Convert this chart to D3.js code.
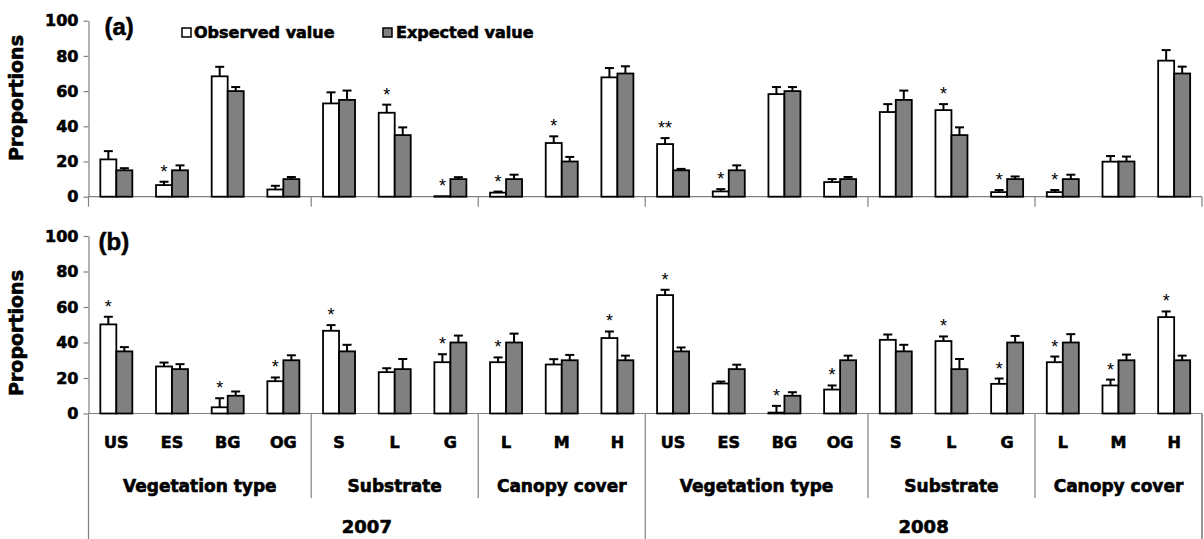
<!DOCTYPE html>
<html>
<head>
<meta charset="utf-8">
<script src="https://cdn.jsdelivr.net/npm/d3@7"></script>
<style>
  body { margin: 0; background: #fff; }
  text { font-family: "DejaVu Sans", sans-serif; font-weight: bold; fill: #000; }
  .heavy { stroke: #000; stroke-width: 0.6px; }
</style>
</head>
<body>
<div class="chart"></div>
<script>
// categories (10 per year)
var catLabels = ["US", "ES", "BG", "OG", "S", "L", "G", "L", "M", "H",
                 "US", "ES", "BG", "OG", "S", "L", "G", "L", "M", "H"];
var groupNames = ["Vegetation type", "Substrate", "Canopy cover",
                  "Vegetation type", "Substrate", "Canopy cover"];
var groupStarts = [0, 4, 7, 10, 14, 17, 20];
var years = ["2007", "2008"];
var yTicks = [0, 20, 40, 60, 80, 100];

// panel (a)
var obsA = [21.2, 6.6, 68.4, 4.1, 53.0, 47.7, 0.3, 2.3, 30.5, 67.8,
            29.9, 3.0, 58.3, 8.3, 48.1, 49.2, 2.6, 2.6, 19.9, 77.3];
var obsErrA = [4.7, 1.9, 5.4, 2.1, 6.3, 4.6, 0, 0.6, 3.8, 5.3,
               3.4, 1.3, 4.0, 1.7, 4.5, 3.4, 1.2, 1.2, 3.2, 6.0];
var expA = [15, 15, 60, 10, 55, 35, 10, 10, 20, 70,
            15, 15, 60, 10, 55, 35, 10, 10, 20, 70];
var expErrA = [1.2, 2.8, 2.3, 1.2, 5.3, 4.4, 1.1, 2.5, 2.6, 4.1,
               0.8, 2.8, 2.3, 1.2, 5.3, 4.4, 1.5, 2.5, 2.8, 3.9];
var starsA = ["", "*", "", "", "", "*", "*", "*", "*", "",
              "**", "*", "", "", "", "*", "*", "*", "", ""];

// panel (b)
var obsB = [50.2, 26.5, 3.5, 18.2, 46.6, 23.3, 28.9, 28.9, 27.6, 42.5,
            66.7, 16.9, 0.5, 13.5, 41.5, 40.8, 16.7, 28.9, 15.8, 54.3];
var obsErrB = [4.3, 2.2, 5.1, 2.1, 3.2, 2.2, 4.5, 2.7, 3.0, 3.7,
               3.0, 1.1, 3.8, 2.3, 3.0, 2.6, 3.0, 3.2, 3.3, 3.2];
var expB = [35, 25, 10, 30, 35, 25, 40, 40, 30, 30,
            35, 25, 10, 30, 35, 25, 40, 40, 30, 30];
var expErrB = [2.4, 2.8, 2.4, 2.8, 3.7, 5.7, 3.9, 5.0, 3.0, 2.6,
               2.2, 2.5, 2.0, 2.6, 3.7, 5.7, 3.7, 4.7, 3.2, 2.6];
var starsB = ["*", "", "*", "*", "*", "", "*", "*", "", "*",
              "*", "", "*", "*", "", "*", "*", "*", "*", "*"];

var svgWidth = 1204;
var svgHeight = 539;
var axisColor = "#808080";
var grayFill = "#808080";
var barW = 16;

var svg = d3.select(".chart")
    .append("svg")
    .attr("width", svgWidth)
    .attr("height", svgHeight);

var xScale = d3.scaleBand()
    .domain(d3.range(catLabels.length))
    .range([88.5, 1202]);

function edge(i) {
    return i < catLabels.length ? xScale(i) : xScale.range()[1];
}

var panels = [
    { tag: "(a)", top: 20.7, bottom: 196.7, obs: obsA, obsErr: obsErrA, exp: expA, expErr: expErrA, stars: starsA, labelY: 98 },
    { tag: "(b)", top: 236, bottom: 413.5, obs: obsB, obsErr: obsErrB, exp: expB, expErr: expErrB, stars: starsB, labelY: 333 }
];

panels.forEach(function (p, k) {
    var y = d3.scaleLinear().domain([0, 100]).range([p.bottom, p.top]);
    var g = svg.append("g");

    // y axis
    var leftAxis = d3.axisLeft(y).tickValues(yTicks).tickSize(5).tickPadding(5).tickSizeOuter(0);
    var ax = g.append("g")
        .attr("transform", "translate(" + xScale.range()[0] + ",0)")
        .call(leftAxis);
    ax.selectAll("path, line").attr("stroke", axisColor).attr("stroke-width", 1.2);
    ax.selectAll("text")
        .attr("class", "heavy")
        .style("font-family", "DejaVu Sans")
        .style("font-weight", "bold")
        .style("font-size", "16px")
        .attr("fill", "#000");

    // y axis goes on below zero
    g.append("line")
        .attr("x1", xScale.range()[0]).attr("x2", xScale.range()[0])
        .attr("y1", p.bottom).attr("y2", k === 0 ? p.bottom + 10 : svgHeight)
        .attr("stroke", axisColor).attr("stroke-width", 1.2);

    // x axis line
    g.append("line")
        .attr("x1", xScale.range()[0]).attr("x2", xScale.range()[1])
        .attr("y1", p.bottom).attr("y2", p.bottom)
        .attr("stroke", axisColor).attr("stroke-width", 1.2);

    // group dividers
    if (k === 0) {
        g.selectAll(".div")
            .data(groupStarts.slice(1))
            .enter()
            .append("line")
            .attr("x1", d => edge(d)).attr("x2", d => edge(d))
            .attr("y1", p.bottom).attr("y2", p.bottom + 10)
            .attr("stroke", axisColor).attr("stroke-width", 1.2);
    } else {
        g.selectAll(".div")
            .data(groupStarts.slice(1))
            .enter()
            .append("line")
            .attr("x1", d => edge(d)).attr("x2", d => edge(d))
            .attr("y1", p.bottom)
            .attr("y2", d => (d % 10 === 0) ? svgHeight : 498)
            .attr("stroke", axisColor).attr("stroke-width", 1.2);
    }

    // y label
    g.append("text")
        .attr("class", "heavy")
        .attr("transform", "translate(23," + p.labelY + ") rotate(-90)")
        .style("text-anchor", "middle")
        .style("font-size", "19px")
        .text("Proportions");

    // panel tag
    g.append("text")
        .attr("x", xScale.range()[0] + (k === 0 ? 16 : 10))
        .attr("y", p.top + 14)
        .style("font-family", "Liberation Sans")
        .style("font-size", "24px")
        .attr("stroke", "#000")
        .attr("stroke-width", 0.5)
        .text(p.tag);

    var idx = d3.range(catLabels.length);
    var cx = i => xScale(i) + xScale.bandwidth() / 2;

    // error bars
    function errBars(vals, errs, off) {
        var eg = g.append("g").attr("stroke", "#000").attr("stroke-width", 2);
        idx.forEach(function (i) {
            if (errs[i] <= 0) return;
            var xc = cx(i) + off;
            eg.append("line")
                .attr("x1", xc).attr("x2", xc)
                .attr("y1", y(vals[i])).attr("y2", y(vals[i] + errs[i]));
            eg.append("line")
                .attr("x1", xc - 4.5).attr("x2", xc + 4.5)
                .attr("y1", y(vals[i] + errs[i])).attr("y2", y(vals[i] + errs[i]));
        });
    }
    errBars(p.obs, p.obsErr, -barW / 2);
    errBars(p.exp, p.expErr, barW / 2);

    // observed bars
    g.selectAll(".obs")
        .data(idx)
        .enter()
        .append("rect")
        .attr("x", i => cx(i) - barW)
        .attr("y", i => y(p.obs[i]))
        .attr("width", barW)
        .attr("height", i => y(0) - y(p.obs[i]))
        .attr("fill", "#fff")
        .attr("stroke", "#000")
        .attr("stroke-width", 1.8);

    // expected bars
    g.selectAll(".exp")
        .data(idx)
        .enter()
        .append("rect")
        .attr("x", i => cx(i))
        .attr("y", i => y(p.exp[i]))
        .attr("width", barW)
        .attr("height", i => y(0) - y(p.exp[i]))
        .attr("fill", grayFill)
        .attr("stroke", "#000")
        .attr("stroke-width", 1.8);

    // significance stars
    g.selectAll(".star")
        .data(idx.filter(i => p.stars[i] !== ""))
        .enter()
        .append("text")
        .attr("x", i => cx(i) - barW / 2)
        .attr("y", i => y(p.obs[i] + p.obsErr[i]) - 4)
        .style("text-anchor", "middle")
        .style("font-family", "Liberation Sans")
        .style("font-weight", "normal")
        .style("font-size", "18px")
        .attr("fill", "#909090")
        .text(i => p.stars[i]);
});

// legend
var legend = svg.append("g");
legend.append("rect")
    .attr("x", 182).attr("y", 28).attr("width", 9).attr("height", 9)
    .attr("fill", "#fff").attr("stroke", "#000").attr("stroke-width", 1.5);
legend.append("text")
    .attr("class", "heavy")
    .attr("x", 194).attr("y", 38)
    .style("font-size", "16px")
    .text("Observed value");
legend.append("rect")
    .attr("x", 383).attr("y", 28).attr("width", 9).attr("height", 9)
    .attr("fill", grayFill).attr("stroke", "#000").attr("stroke-width", 1.5);
legend.append("text")
    .attr("class", "heavy")
    .attr("x", 396).attr("y", 38)
    .style("font-size", "16px")
    .text("Expected value");

// category labels
svg.append("g")
    .selectAll("text")
    .data(catLabels)
    .enter()
    .append("text")
    .attr("class", "heavy")
    .attr("x", (d, i) => xScale(i) + xScale.bandwidth() / 2)
    .attr("y", 448)
    .style("text-anchor", "middle")
    .style("font-size", "16px")
    .text(d => d);

// group labels
svg.append("g")
    .selectAll("text")
    .data(groupNames)
    .enter()
    .append("text")
    .attr("class", "heavy")
    .attr("x", (d, i) => (edge(groupStarts[i]) + edge(groupStarts[i + 1])) / 2)
    .attr("y", 492)
    .style("text-anchor", "middle")
    .style("font-size", "17px")
    .text(d => d);

// year labels
svg.append("g")
    .selectAll("text")
    .data(years)
    .enter()
    .append("text")
    .attr("class", "heavy")
    .attr("x", (d, i) => (edge(i * 10) + edge(i * 10 + 10)) / 2)
    .attr("y", 533)
    .style("text-anchor", "middle")
    .style("font-size", "18px")
    .text(d => d);

// right border of the category table
svg.append("line")
    .attr("x1", xScale.range()[1]).attr("x2", xScale.range()[1])
    .attr("y1", 413.5).attr("y2", svgHeight)
    .attr("stroke", axisColor).attr("stroke-width", 1.2);
</script>
</body>
</html>
